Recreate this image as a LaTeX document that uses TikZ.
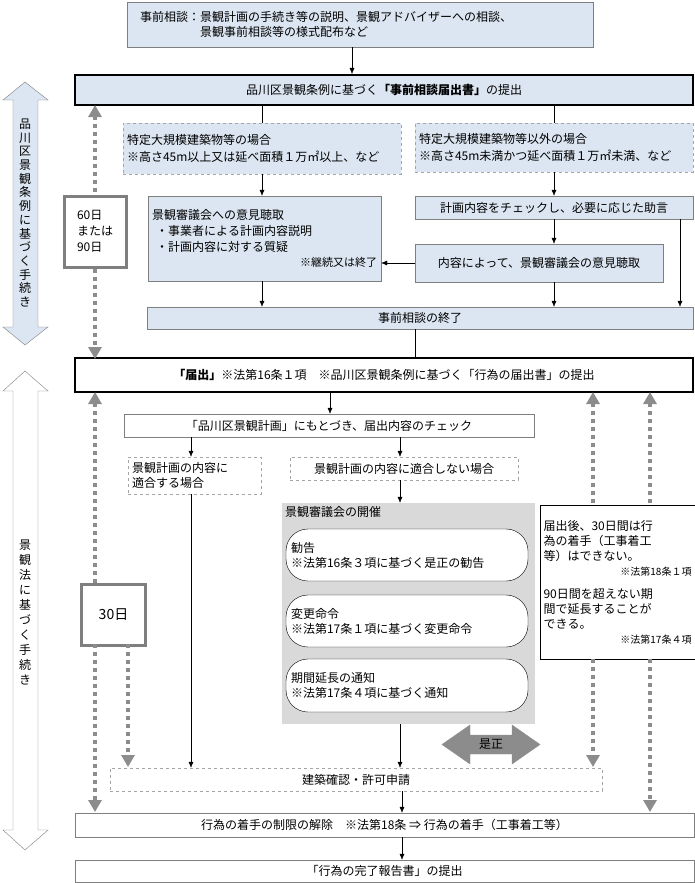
\documentclass[tikz,border=0pt]{standalone}
\usepackage{fontspec}
\setmainfont{Noto Sans CJK JP}
\XeTeXlinebreaklocale "ja"
\usetikzlibrary{arrows.meta,positioning}
\definecolor{paleblue}{HTML}{DCE6F2}
\definecolor{edgegray}{HTML}{7F7F7F}
\definecolor{panelgray}{HTML}{D9D9D9}
\definecolor{dotgray}{HTML}{8C8C8C}
\begin{document}
\begin{tikzpicture}[
x=1pt, y=-1pt,
font=\fontsize{12}{15}\selectfont,
box/.style={
  draw=edgegray,
  fill=paleblue,
  inner sep=3pt
  },
bigbox/.style={
  box,
  draw=black,
  line width=2pt
  },
wbox/.style={
  draw=edgegray,
  fill=white,
  inner sep=3pt
  },
dbox/.style={
  draw=edgegray!70,
  dashed,
  inner sep=3pt
  },
pill/.style={
  draw=black,
  fill=white,
  rounded corners=22pt,
  inner sep=4pt,
  align=left
  },
days/.style={
  draw=edgegray,
  line width=3pt,
  fill=white,
  inner sep=4pt
  },
flow/.style={
  -{Latex[length=6pt,width=5pt]},
  black
  },
span/.style={
  dotgray,
  line width=4pt,
  dash pattern=on 4pt off 4pt,
  >={Triangle[length=12pt,width=13pt]}
  }
]
\useasboundingbox (0,0) rectangle (694,883);

% side arrows
\draw[edgegray,fill=paleblue] (25,82) -- (48,100) -- (38,100) -- (38,327) -- (48,327)
  -- (25,345) -- (3,327) -- (13,327) -- (13,100) -- (3,100) -- cycle;
\draw[edgegray,fill=white] (25,371) -- (48,391) -- (38,391) -- (38,830) -- (48,830)
  -- (25,850) -- (3,830) -- (13,830) -- (13,391) -- (3,391) -- cycle;
\node[align=center, font=\fontsize{12}{13.7}\selectfont] (ordlabel) at (25,213)
  {品\\川\\区\\景\\観\\条\\例\\に\\基\\づ\\く\\手\\続\\き};
\node[align=center, font=\fontsize{12}{15}\selectfont] (lawlabel) at (25,612)
  {景\\観\\法\\に\\基\\づ\\く\\手\\続\\き};

% consultation phase
\node[box, minimum width=466pt, minimum height=45pt, text width=440pt, align=left] (consult) at (360,24.5)
  {事前相談：景観計画の手続き等の説明、景観アドバイザーへの相談、\\
   \phantom{事前相談：}景観事前相談等の様式配布など};
\node[bigbox, minimum width=618pt, minimum height=30pt] (request) at (384,90)
  {品川区景観条例に基づく\textbf{「事前相談届出書」}の提出};
\node[box, dbox, fill=paleblue, minimum width=278pt, minimum height=51pt,
  text width=270pt, align=left] (large) at (262,148.5)
  {特定大規模建築物等の場合\\[2pt]※高さ45m以上又は延べ面積１万㎡以上、など};
\node[box, dbox, fill=paleblue, minimum width=278pt, minimum height=49pt,
  text width=270pt, align=left] (other) at (554,147.5)
  {特定大規模建築物等以外の場合\\[2pt]※高さ45m未満かつ延べ面積１万㎡未満、など};
\node[box, minimum width=233pt, minimum height=85pt, text width=225pt, align=left] (hearing) at (264.5,238.5)
  {景観審議会への意見聴取\\[1pt]
   \ ・事業者による計画内容説明\\[1pt]
   \ ・計画内容に対する質疑\\
   \hfill {\fontsize{11}{13}\selectfont ※継続又は終了}};
\node[box, minimum width=278pt, minimum height=23pt] (advice) at (554,207.5)
  {計画内容をチェックし、必要に応じた助言};
\node[box, minimum width=248pt, minimum height=38pt] (opinion) at (539,263)
  {内容によって、景観審議会の意見聴取};
\node[box, minimum width=546pt, minimum height=22pt] (closing) at (420,318)
  {事前相談の終了};
\node[days, minimum width=62pt, minimum height=71pt, align=left,
  font=\fontsize{12}{16}\selectfont] (days60) at (95,231.5)
  {60日\\または\\90日};

% notification phase
\node[bigbox, fill=white, minimum width=618pt, minimum height=34pt] (notice) at (384,375)
  {\textbf{「届出」}※法第16条１項\quad ※品川区景観条例に基づく「行為の届出書」の提出};
\node[wbox, minimum width=410pt, minimum height=23pt] (review) at (329,425.5)
  {「品川区景観計画」にもとづき、届出内容のチェック};
\node[dbox, minimum width=133pt, minimum height=37pt, text width=125pt, align=left] (fit) at (194.5,475.5)
  {景観計画の内容に\\適合する場合};
\node[dbox, minimum width=228pt, minimum height=23pt] (misfit) at (404,468.5)
  {景観計画の内容に適合しない場合};
\node[fill=panelgray, minimum width=253pt, minimum height=221pt] (council) at (408.5,613.5) {};
\node[anchor=north west, inner sep=3pt] (counciltitle) at (council.north west)
  {景観審議会の開催};
\node[pill, minimum width=242pt, minimum height=52pt, text width=232pt] (advise) at (407,555)
  {勧告\\※法第16条３項に基づく是正の勧告};
\node[pill, minimum width=242pt, minimum height=52pt, text width=232pt] (order) at (407,621)
  {変更命令\\※法第17条１項に基づく変更命令};
\node[pill, minimum width=242pt, minimum height=53pt, text width=232pt] (extend) at (407,685.5)
  {期間延長の通知\\※法第17条４項に基づく通知};
\node[wbox, draw=black, minimum width=155pt, minimum height=154pt, text width=148pt,
  align=left, inner sep=3pt, font=\fontsize{12}{15}\selectfont] (note) at (617.5,582)
  {届出後、30日間は行\\為の着手（工事着工\\等）はできない。\\
   \hfill{\fontsize{10}{12}\selectfont ※法第18条１項}\\[8pt]
   90日間を超えない期\\間で延長することが\\できる。\\
   \hfill{\fontsize{10}{12}\selectfont ※法第17条４項}};
\draw[dotgray, fill=dotgray] (442,744.5) -- (470,725) -- (470,735) -- (512,735) -- (512,725)
  -- (540,744.5) -- (512,764) -- (512,754) -- (470,754) -- (470,764) -- cycle;
\node (correct) at (491,744.5) {是正};
\node[dbox, minimum width=492pt, minimum height=23pt] (permit) at (356,779.5)
  {建築確認・許可申請};
\node[wbox, minimum width=619pt, minimum height=24pt] (release) at (384.5,825)
  {行為の着手の制限の解除\quad ※法第18条 ⇒ 行為の着手（工事着工等）};
\node[wbox, minimum width=619pt, minimum height=22pt] (report) at (384.5,871)
  {「行為の完了報告書」の提出};
\node[days, minimum width=64pt, minimum height=61pt, anchor=north west,
  font=\fontsize{14}{16}\selectfont] (days30) at (80,583) {30日};

% period spans
\coordinate (s1) at (95,105);
\coordinate (s2) at (95,359);
\coordinate (s3) at (95,392);
\coordinate (s4) at (95,583);
\coordinate (s5) at (95,644);
\coordinate (s6) at (95,812);
\coordinate (s7) at (128,644);
\coordinate (s8) at (128,767);
\coordinate (r1) at (593,392);
\coordinate (r2) at (593,505);
\coordinate (r3) at (593,659);
\coordinate (r4) at (593,767);
\coordinate (q1) at (650,392);
\coordinate (q2) at (650,505);
\coordinate (q3) at (650,659);
\coordinate (q4) at (650,812);
\draw[span, <-] (s1) -- (days60.north);
\draw[span, ->] (days60.south) -- (s2);
\draw[span, <-] (s3) -- (s4);
\draw[span, ->] (s5) -- (s6);
\draw[span, ->] (s7) -- (s8);
\draw[span, <-] (r1) -- (r2);
\draw[span, ->] (r3) -- (r4);
\draw[span, <-] (q1) -- (q2);
\draw[span, ->] (q3) -- (q4);

% flow
\draw[flow] (consult.south -| 352,0) -- (request.north -| 352,0);
\draw (request.south -| large) -- (large.north);
\draw (request.south -| other) -- (other.north);
\draw[flow] (large.south) -- (hearing.north -| large);
\draw[flow] (other.south) -- (advice.north -| other);
\draw[flow] (advice.south -| other) -- (opinion.north -| other);
\draw[flow] (advice.south -| 680,0) -- (closing.north -| 680,0);
\draw[flow] (opinion.west) -- (hearing.east |- opinion.west);
\draw[flow] (hearing.south -| large) -- (closing.north -| large);
\draw[flow] (opinion.south -| other) -- (closing.north -| other);
\draw (closing.south -| 415,0) -- (notice.north -| 415,0);
\draw[flow] (notice.south -| 330,0) -- (review.north -| 330,0);
\draw[flow] (review.south -| 191,0) -- (fit.north -| 191,0);
\draw[flow] (review.south -| 400,0) -- (misfit.north -| 400,0);
\draw[flow] (misfit.south -| 400,0) -- (council.north -| 400,0);
\draw[flow] (fit.south -| 191,0) -- (permit.north -| 191,0);
\draw[flow] (council.south -| 400,0) -- (permit.north -| 400,0);
\draw[flow] (permit.south -| 402,0) -- (release.north -| 402,0);
\draw[flow] (release.south -| 402,0) -- (report.north -| 402,0);
\end{tikzpicture}
\end{document}
